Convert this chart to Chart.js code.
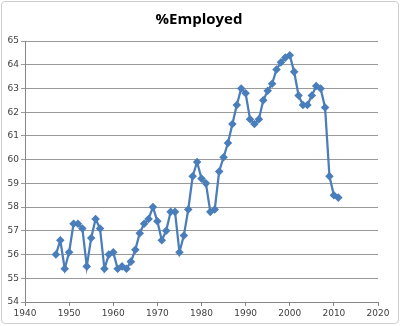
<!DOCTYPE html>
<html>
<head>
<meta charset="utf-8">
<script src="https://cdn.jsdelivr.net/npm/chart.js@4/dist/chart.umd.min.js"></script>
<style>
  html, body { margin: 0; padding: 0; background: #ffffff; }
  #wrap { position: relative; width: 400px; height: 326px; }
  #c { position: absolute; left: 0; top: 0; }
  #frame { position: absolute; left: 1px; top: 1px; width: 396px; height: 321px;
           border: 1px solid #cfcfcf; border-radius: 4px; pointer-events: none; }
</style>
</head>
<body>
<div id="wrap">
  <canvas id="c" width="400" height="326"></canvas>
  <div id="frame"></div>
</div>
<script>
const chartTitle = "%Employed";
const years = [1947,1948,1949,1950,1951,1952,1953,1954,1955,1956,1957,1958,1959,
  1960,1961,1962,1963,1964,1965,1966,1967,1968,1969,1970,1971,1972,1973,1974,
  1975,1976,1977,1978,1979,1980,1981,1982,1983,1984,1985,1986,1987,1988,1989,
  1990,1991,1992,1993,1994,1995,1996,1997,1998,1999,2000,2001,2002,2003,2004,
  2005,2006,2007,2008,2009,2010,2011];
const employed = [56.0,56.6,55.4,56.1,57.3,57.3,57.1,55.5,56.7,57.5,57.1,55.4,56.0,
  56.1,55.4,55.5,55.4,55.7,56.2,56.9,57.3,57.5,58.0,57.4,56.6,57.0,57.8,57.8,
  56.1,56.8,57.9,59.3,59.9,59.2,59.0,57.8,57.9,59.5,60.1,60.7,61.5,62.3,63.0,
  62.8,61.7,61.5,61.7,62.5,62.9,63.2,63.8,64.1,64.3,64.4,63.7,62.7,62.3,62.3,
  62.7,63.1,63.0,62.2,59.3,58.5,58.4];
const xTicks = [1940,1950,1960,1970,1980,1990,2000,2010,2020];
const yTicks = [54,55,56,57,58,59,60,61,62,63,64,65];

const points = years.map((y, i) => ({x: y, y: employed[i]}));

const titleCenter = {
  id: 'titleCenter',
  afterLayout(chart) {
    const t = chart.titleBlock;
    if (t) { t.left = 0; t.right = 398; }
  }
};

new Chart(document.getElementById('c'), {
  type: 'scatter',
  data: {
    datasets: [{
      data: points,
      showLine: true,
      borderColor: '#4a7ebb',
      backgroundColor: '#4a7ebb',
      borderWidth: 2.25,
      pointStyle: 'rectRot',
      pointRadius: 2.7,
      pointHoverRadius: 2.7,
      tension: 0
    }]
  },
  options: {
    responsive: false,
    animation: false,
    layout: { padding: { top: 0, right: 22, bottom: 2, left: 2 } },
    plugins: {
      legend: { display: false },
      tooltip: { enabled: false },
      title: {
        display: true,
        text: chartTitle,
        color: '#000000',
        font: { family: 'Open Sans', size: 15, weight: 'bold' },
        padding: { top: 11, bottom: 12 }
      }
    },
    scales: {
      x: {
        type: 'linear',
        min: xTicks[0],
        max: xTicks[xTicks.length - 1],
        afterBuildTicks: (s) => { s.ticks = xTicks.map(v => ({value: v})); },
        afterFit: (s) => { s.height = 22; },
        grid: { display: true, drawOnChartArea: false, drawTicks: true, tickLength: 4, color: '#868686' },
        border: { display: true, color: '#868686', width: 1 },
        ticks: { color: '#404040', font: { family: 'DejaVu Sans', size: 9 }, padding: 2, maxRotation: 0,
                 callback: (v) => String(v) }
      },
      y: {
        type: 'linear',
        min: yTicks[0],
        max: yTicks[yTicks.length - 1],
        afterBuildTicks: (s) => { s.ticks = yTicks.map(v => ({value: v})); },
        afterFit: (s) => { s.width = 23; },
        grid: { color: '#9a9a9a', lineWidth: 1, drawTicks: true, tickLength: 4 },
        border: { display: true, color: '#868686', width: 1 },
        ticks: { color: '#404040', font: { family: 'DejaVu Sans', size: 9 }, padding: 2 }
      }
    }
  },
  plugins: [titleCenter]
});
</script>
</body>
</html>
